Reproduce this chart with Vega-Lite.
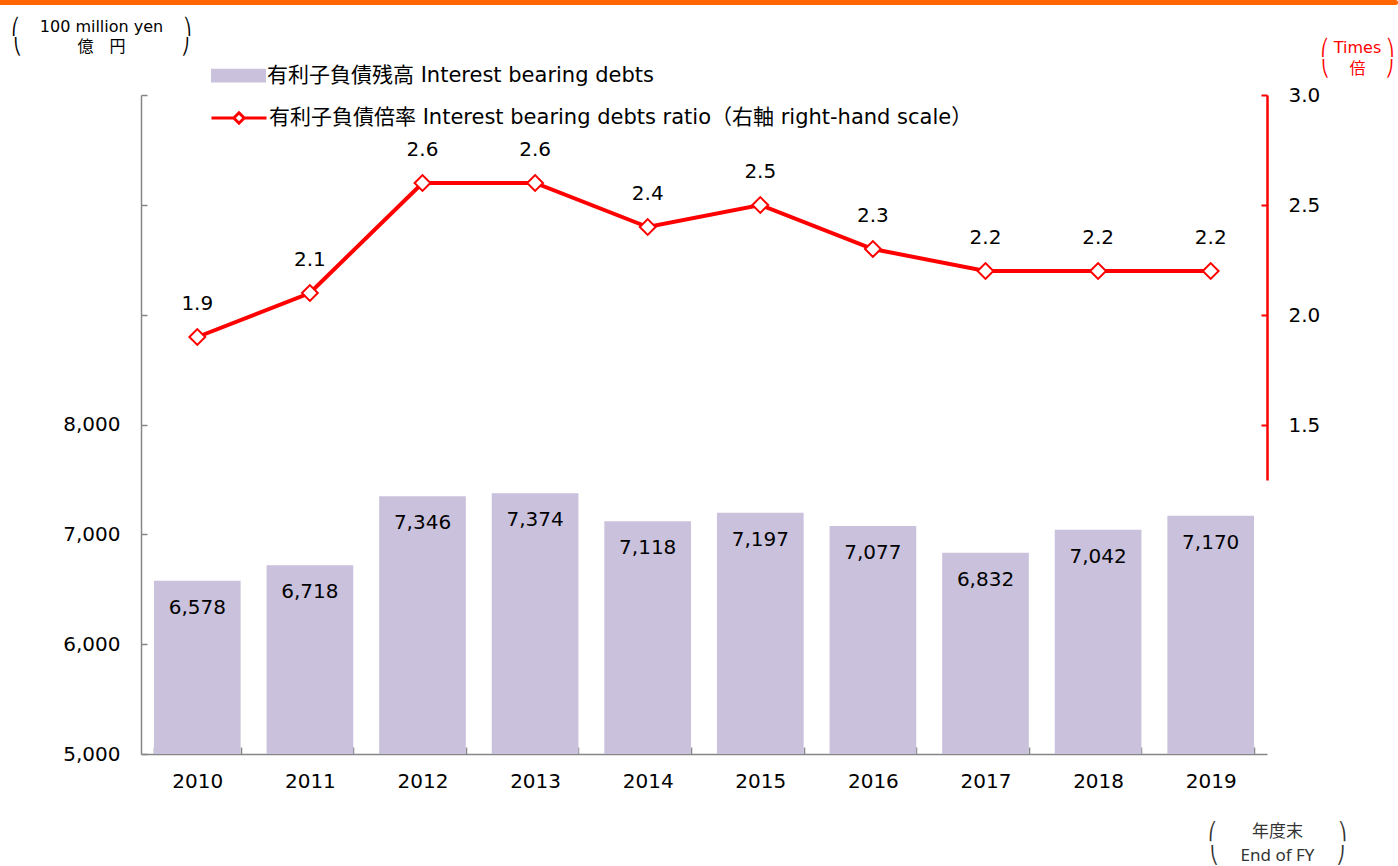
{
  "$schema": "https://vega.github.io/schema/vega-lite/v6.json",
  "width": 1126,
  "height": 659,
  "autosize": {"type": "none"},
  "padding": {"left": 141, "top": 95, "right": 131, "bottom": 112},
  "background": "white",
  "config": {"view": {"stroke": null}, "font": "DejaVu Sans"},
  "data": {"values": [
    {"year": "2010", "debt": 6578, "ratio": 1.9},
    {"year": "2011", "debt": 6718, "ratio": 2.1},
    {"year": "2012", "debt": 7346, "ratio": 2.6},
    {"year": "2013", "debt": 7374, "ratio": 2.6},
    {"year": "2014", "debt": 7118, "ratio": 2.4},
    {"year": "2015", "debt": 7197, "ratio": 2.5},
    {"year": "2016", "debt": 7077, "ratio": 2.3},
    {"year": "2017", "debt": 6832, "ratio": 2.2},
    {"year": "2018", "debt": 7042, "ratio": 2.2},
    {"year": "2019", "debt": 7170, "ratio": 2.2}
  ]},
  "layer": [
    {
      "encoding": {
        "x": {"field": "year", "type": "ordinal",
          "scale": {"type": "band", "paddingInner": 0.23, "paddingOuter": 0.115},
          "axis": {"orient": "bottom", "tickBand": "extent", "tickSize": -7, "tickColor": "#868686", "tickWidth": 1.5,
            "domainColor": "#868686", "domainWidth": 1.5, "labelAngle": 0, "labelPadding": 24, "labelFontSize": 20,
            "labelColor": "#000000", "labelFont": "DejaVu Sans",
            "title": ["⎛\u00a0\u00a0\u00a0\u00a0\u00a0\u00a0\u00a0\u00a0年度末\u00a0\u00a0\u00a0\u00a0\u00a0\u00a0\u00a0\u00a0⎞", "⎝\u00a0\u00a0\u00a0\u00a0\u00a0End of FY\u00a0\u00a0\u00a0\u00a0\u00a0⎠"],
            "titleFont": "Noto Sans, DejaVu Sans, Noto Sans CJK JP", "titleFontSize": 17, "titleFontWeight": "normal",
            "titleColor": "#333333", "titleAngle": 0, "titleX": 1136, "titleY": 69, "titleAlign": "center", "titleBaseline": "top", "titleLineHeight": 24}},
        "y": {"field": "debt", "type": "quantitative",
          "scale": {"domain": [5000, 11000], "nice": false, "zero": false},
          "axis": {"orient": "left", "values": [5000, 6000, 7000, 8000, 9000, 10000, 11000],
            "labelExpr": "datum.value <= 8000 ? format(datum.value, ',') : ''",
            "tickSize": -6, "tickColor": "#868686", "tickWidth": 1.5, "domainColor": "#868686", "domainWidth": 1.5,
            "labelPadding": 27, "labelFontSize": 20, "labelColor": "#000000", "labelFont": "DejaVu Sans", "grid": false,
            "title": ["⎛\u00a0\u00a0\u00a0\u00a0100 million yen\u00a0\u00a0\u00a0\u00a0⎞", "⎝\u00a0\u00a0\u00a0\u00a0\u00a0\u00a0\u00a0\u00a0\u00a0\u00a0\u00a0億　円\u00a0\u00a0\u00a0\u00a0\u00a0\u00a0\u00a0\u00a0\u00a0\u00a0\u00a0⎠"],
            "titleAngle": 0, "titleX": -40, "titleY": -77, "titleAlign": "center",
            "titleBaseline": "top", "titleFontSize": 16, "titleFontWeight": "normal", "titleColor": "#000000",
            "titleFont": "DejaVu Sans, Noto Sans CJK JP", "titleLineHeight": 20}}
      },
      "layer": [
        {"mark": {"type": "bar"},
         "encoding": {
           "y2": {"datum": 5000},
           "fill": {"datum": "有利子負債残高 Interest bearing debts", "type": "nominal",
             "scale": {"range": ["#CAC1DC"]},
             "legend": {"orient": "none", "legendX": 70, "legendY": -47, "title": null, "padding": 0,
               "symbolType": "M-1,-0.25H1V0.25H-1Z", "symbolSize": 3025, "symbolStrokeWidth": 0,
               "labelFontSize": 21, "labelFont": "DejaVu Sans, Noto Sans CJK JP", "labelColor": "#000000",
               "labelLimit": 0, "labelOffset": 1}}}},
        {"mark": {"type": "text", "baseline": "middle", "dy": 27, "fontSize": 20, "color": "#000000", "font": "DejaVu Sans"},
         "encoding": {"text": {"field": "debt", "type": "quantitative", "format": ","}}}
      ]
    },
    {
      "encoding": {
        "x": {"field": "year", "type": "ordinal",
          "scale": {"type": "band", "paddingInner": 0.23, "paddingOuter": 0.115}, "axis": null},
        "y": {"field": "ratio", "type": "quantitative",
          "scale": {"domain": [1.25, 3.0], "range": [385, 0], "nice": false, "zero": false},
          "axis": {"orient": "right", "values": [1.5, 2.0, 2.5, 3.0], "format": ".1f",
            "tickSize": -6, "tickColor": "#FF0000", "tickWidth": 2, "domainColor": "#FF0000", "domainWidth": 2.5,
            "labelPadding": 27, "labelFontSize": 20, "labelColor": "#000000", "labelFont": "DejaVu Sans", "grid": false,
            "title": ["⎛\u00a0Times\u00a0⎞", "⎝\u00a0\u00a0\u00a0\u00a0倍\u00a0\u00a0\u00a0\u00a0⎠"],
            "titleAngle": 0, "titleX": 90, "titleY": -56, "titleAlign": "center",
            "titleBaseline": "top", "titleFontSize": 16, "titleFontWeight": "normal", "titleColor": "#FF0000",
            "titleFont": "DejaVu Sans, Noto Sans CJK JP", "titleLineHeight": 21}}
      },
      "layer": [
        {"mark": {"type": "line", "strokeWidth": 4},
         "encoding": {
           "stroke": {"datum": "有利子負債倍率 Interest bearing debts ratio（右軸 right-hand scale）", "type": "nominal",
             "scale": {"range": ["#FF0000"]},
             "legend": {"orient": "none", "legendX": 69, "legendY": -6, "title": null, "padding": 0,
               "symbolType": "M-1,0H-0.19M0.19,0H1M0,-0.19L0.19,0L0,0.19L-0.19,0Z", "symbolSize": 3025,
               "symbolStrokeWidth": 3, "symbolFillColor": "#FFFFFF", "symbolStrokeColor": "#FF0000",
               "labelFontSize": 21, "labelFont": "DejaVu Sans, Noto Sans CJK JP", "labelColor": "#000000",
               "labelLimit": 0, "labelOffset": 1}}}},
        {"mark": {"type": "point", "shape": "diamond", "size": 250, "filled": true, "fill": "#FFFFFF", "stroke": "#FF0000", "strokeWidth": 2, "opacity": 1}},
        {"mark": {"type": "text", "baseline": "middle", "dy": -33, "fontSize": 20, "color": "#000000", "font": "DejaVu Sans"},
         "encoding": {"text": {"field": "ratio", "type": "quantitative", "format": ".1f"}}}
      ]
    },
    {
      "mark": {"type": "point", "opacity": 0},
      "encoding": {
        "x": {"field": "year", "type": "ordinal",
          "scale": {"type": "band", "range": [-141, 1254]},
          "axis": {"orient": "top", "offset": 93, "labels": false, "ticks": false, "title": null,
            "domainColor": "#FF6600", "domainWidth": 5, "domainCap": "round"}}
      }
    }
  ],
  "resolve": {"scale": {"x": "independent", "y": "independent"}}
}
